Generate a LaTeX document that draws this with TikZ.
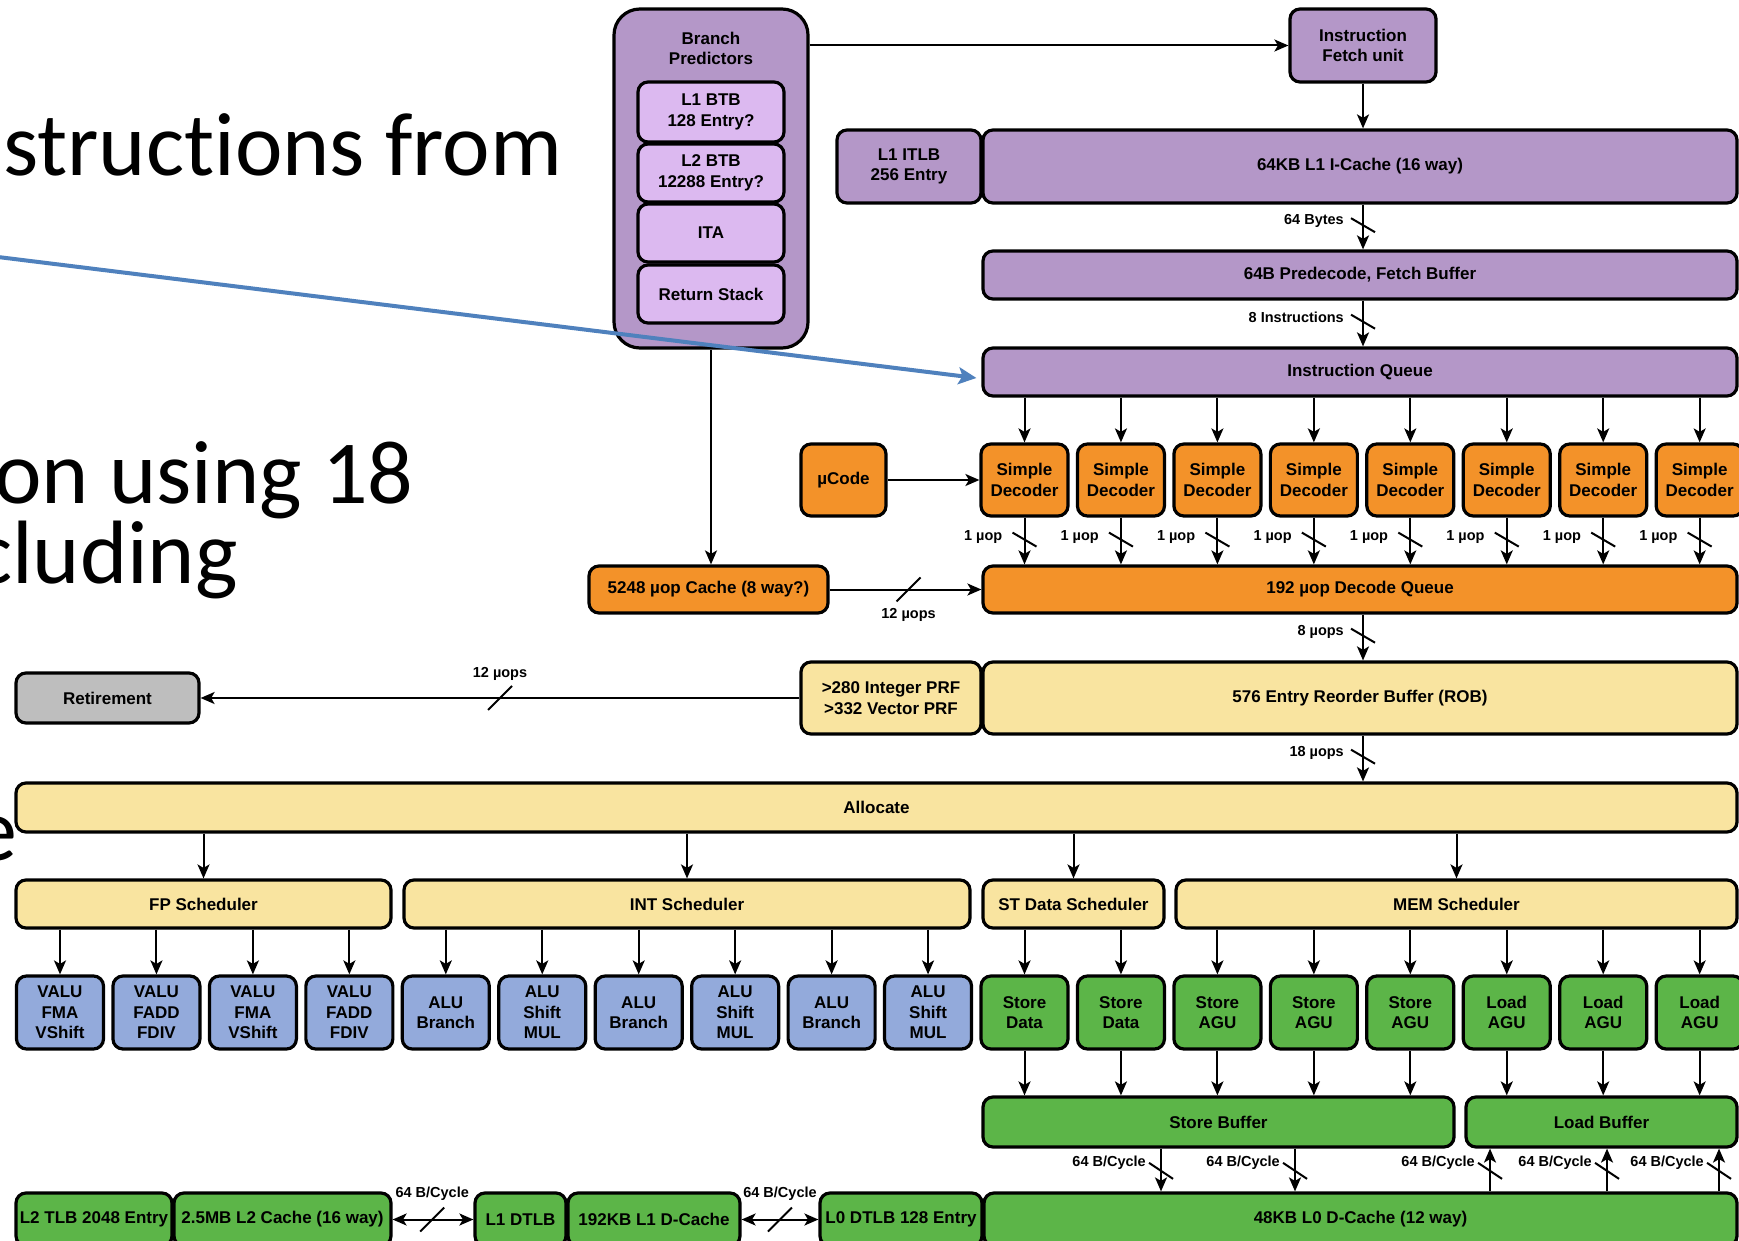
\documentclass[tikz,border=0pt]{standalone}
\usepackage{fontspec}
\setmainfont{Liberation Sans}
\newfontfamily\slidefont[Ligatures=NoCommon]{Carlito}
\usetikzlibrary{arrows.meta,calc}

\definecolor{purpleF}{HTML}{B497C8}
\definecolor{purpleL}{HTML}{DCB9F0}
\definecolor{orangeF}{HTML}{F39229}
\definecolor{yellowF}{HTML}{F9E4A0}
\definecolor{grayF}{HTML}{BEBEBE}
\definecolor{blueF}{HTML}{93AADB}
\definecolor{greenF}{HTML}{5CB548}
\definecolor{noteblue}{HTML}{4F81BD}

\tikzset{
  blk/.style={draw=black, line width=3.2pt, rounded corners=10pt, align=center,
    inner sep=0pt, font=\bfseries\fontsize{17}{20.5}\selectfont},
  pbox/.style={blk, fill=purpleF},
  plight/.style={blk, fill=purpleL},
  obox/.style={blk, fill=orangeF},
  ybox/.style={blk, fill=yellowF},
  gbox/.style={blk, fill=grayF},
  ubox/.style={blk, fill=blueF},
  grbox/.style={blk, fill=greenF},
  arr/.style={line width=2pt, -{Stealth[length=14pt,width=12pt,inset=3.5pt]}},
  darr/.style={line width=2pt, {Stealth[length=14pt,width=12pt,inset=3.5pt]}-{Stealth[length=14pt,width=12pt,inset=3.5pt]}},
  lbl/.style={font=\bfseries\fontsize{14.5}{17}\selectfont, inner sep=0pt},
  slashln/.style={line width=2pt},
  slidetxt/.style={font=\slidefont\fontsize{90}{100}\selectfont, inner sep=0pt, anchor=base west},
}

% box from its corners: name, x1, y1, x2, y2, style, text
\newcommand\mkbox[7]{\node[#6, minimum width={(#4)-(#2)}, minimum height={(#5)-(#3)}] (#1) at ({((#2)+(#4))/2},{((#3)+(#5))/2}) {#7};}
% execution unit on the column grid: name, column, style, text
\newcommand\unitbox[4]{\pgfmathsetmacro\uxpos{60+96.45*#2}\node[#3, minimum width=87, minimum height=73] (#1) at (\uxpos,1012.5) {#4};}
% vertical arrow with a bus slash and a label on its left: from, to, label, slash name
\newcommand\downlbl[4]{%
  \draw[arr] (#1) -- coordinate[pos=0.46] (#4) (#2);
  \draw[slashln] ($(#4)+(-12,-7)$) -- ($(#4)+(12,7)$);
  \node[lbl, anchor=east] (#4l) at ($(#4)+(-19,-4)$) {#3};}

\begin{document}
\begin{tikzpicture}[x=1pt, y=-1pt]
\useasboundingbox (0,0) rectangle (1739,1241);
\clip (0,0) rectangle (1739,1241);
\fill[white] (0,0) rectangle (1739,1241);

% slide text lying behind the diagram
\node[slidetxt] (st1) at (3,176) {structions from};
\node[slidetxt] (st2) at (-6,503) {on using 18};
\node[slidetxt] (st3) at (-26,583) {cluding};
\node[slidetxt, anchor=base east] (st4) at (17,860) {e};

% ---------------- front end ----------------
\mkbox{bp}{614}{9}{808}{348}{pbox, rounded corners=26pt}{}
\node[blk, draw=none, fill=none] (bpt) at (711,48.5) {Branch\\Predictors};
\mkbox{btb1}{638}{82}{784}{142}{plight}{L1 BTB\\128 Entry?}
\mkbox{btb2}{638}{144}{784}{202}{plight}{L2 BTB\\12288 Entry?}
\mkbox{ita}{638}{204}{784}{262}{plight}{ITA}
\mkbox{rs}{638}{265}{784}{323}{plight}{Return Stack}

\mkbox{ifu}{1290}{9}{1436}{82}{pbox}{Instruction\\Fetch unit}
\mkbox{itlb}{837}{130}{981}{203}{pbox}{L1 ITLB\\256 Entry}
\mkbox{ic}{983}{130}{1737}{203}{pbox}{64KB L1 I-Cache (16 way)}
\mkbox{pd}{983}{251}{1737}{299}{pbox}{64B Predecode, Fetch Buffer}
\mkbox{iq}{983}{348}{1737}{396}{pbox}{Instruction Queue}

% ---------------- decode ----------------
\mkbox{uc}{801}{444}{886}{516}{obox}{µCode}
\foreach \i in {10,...,17} {
  \pgfmathsetmacro\uxpos{60+96.45*\i}
  \node[obox, minimum width=87, minimum height=72] (d\i) at (\uxpos,480) {Simple\\Decoder};
}
\mkbox{upc}{589}{566}{828}{613}{obox}{5248 µop Cache (8 way?)}
\mkbox{dq}{983}{566}{1737}{613}{obox}{192 µop Decode Queue}

% ---------------- rename / retire ----------------
\mkbox{prf}{801}{662}{981}{734}{ybox}{>280 Integer PRF\\>332 Vector PRF}
\mkbox{rob}{983}{662}{1737}{734}{ybox}{576 Entry Reorder Buffer (ROB)}
\mkbox{ret}{16}{673}{199}{723}{gbox}{Retirement}
\mkbox{alloc}{16}{783}{1737}{832}{ybox}{Allocate}

% ---------------- schedulers ----------------
\mkbox{fps}{16}{880}{391}{928}{ybox}{FP Scheduler}
\mkbox{ints}{404}{880}{970}{928}{ybox}{INT Scheduler}
\mkbox{sts}{983}{880}{1164}{928}{ybox}{ST Data Scheduler}
\mkbox{mems}{1176}{880}{1737}{928}{ybox}{MEM Scheduler}

% ---------------- execution units ----------------
\unitbox{u0}{0}{ubox}{VALU\\FMA\\VShift}
\unitbox{u1}{1}{ubox}{VALU\\FADD\\FDIV}
\unitbox{u2}{2}{ubox}{VALU\\FMA\\VShift}
\unitbox{u3}{3}{ubox}{VALU\\FADD\\FDIV}
\unitbox{u4}{4}{ubox}{ALU\\Branch}
\unitbox{u5}{5}{ubox}{ALU\\Shift\\MUL}
\unitbox{u6}{6}{ubox}{ALU\\Branch}
\unitbox{u7}{7}{ubox}{ALU\\Shift\\MUL}
\unitbox{u8}{8}{ubox}{ALU\\Branch}
\unitbox{u9}{9}{ubox}{ALU\\Shift\\MUL}
\unitbox{u10}{10}{grbox}{Store\\Data}
\unitbox{u11}{11}{grbox}{Store\\Data}
\unitbox{u12}{12}{grbox}{Store\\AGU}
\unitbox{u13}{13}{grbox}{Store\\AGU}
\unitbox{u14}{14}{grbox}{Store\\AGU}
\unitbox{u15}{15}{grbox}{Load\\AGU}
\unitbox{u16}{16}{grbox}{Load\\AGU}
\unitbox{u17}{17}{grbox}{Load\\AGU}

% ---------------- memory ----------------
\mkbox{sb}{983}{1097}{1454}{1147}{grbox}{Store Buffer}
\mkbox{lb}{1466}{1097}{1737}{1147}{grbox}{Load Buffer}
\mkbox{l2tlb}{16}{1193}{172}{1246}{grbox}{L2 TLB 2048 Entry}
\mkbox{l2c}{174}{1193}{391}{1246}{grbox}{2.5MB L2 Cache (16 way)}
\mkbox{l1dtlb}{475}{1193}{566}{1246}{grbox}{L1 DTLB}
\mkbox{l1d}{568}{1193}{740}{1246}{grbox}{192KB L1 D-Cache}
\mkbox{l0dtlb}{820}{1193}{982}{1246}{grbox}{L0 DTLB 128 Entry}
\mkbox{l0d}{984}{1193}{1737}{1246}{grbox}{48KB L0 D-Cache (12 way)}

% ---------------- connectors ----------------
\draw[arr] (bp.east |- ifu.west) -- (ifu.west);
\draw[arr] (ifu.south) -- (ifu.south |- ic.north);
\downlbl{ifu.south |- ic.south}{ifu.south |- pd.north}{64 Bytes}{sa}
\downlbl{ifu.south |- pd.south}{ifu.south |- iq.north}{8 Instructions}{sb1}
\foreach \i in {10,...,17} {
  \draw[arr] (d\i.north |- iq.south) -- (d\i.north);
  \draw[arr] (d\i.south) -- coordinate[pos=0.47] (dm\i) (d\i.south |- dq.north);
  \draw[slashln] ($(dm\i)+(-12,-7)$) -- ($(dm\i)+(12,7)$);
  \node[lbl, anchor=east] (dl\i) at ($(dm\i)+(-22,-3)$) {1 µop};
}
\draw[arr] (uc.east) -- (d10.west);
\draw[arr] (bp.south) -- (bp.south |- upc.north);
\draw[arr] (upc.east) -- coordinate[pos=0.52] (sc) (dq.west);
\draw[slashln] ($(sc)+(-12,12)$) -- ($(sc)+(12,-12)$);
\node[lbl] (scl) at ($(sc)+(0,25.5)$) {12 µops};
\downlbl{ifu.south |- dq.south}{ifu.south |- rob.north}{8 µops}{sd}
\downlbl{ifu.south |- rob.south}{ifu.south |- alloc.north}{18 µops}{se}
\draw[arr] (prf.west) -- coordinate[pos=0.5] (sr) (ret.east);
\draw[slashln] ($(sr)+(-12,12)$) -- ($(sr)+(12,-12)$);
\node[lbl] (srl) at ($(sr)+(0,-24)$) {12 µops};

\foreach \s in {fps,ints,sts,mems}
  \draw[arr] (\s.north |- alloc.south) -- (\s.north);
\foreach \i in {0,1,2,3}
  \draw[arr] (u\i.north |- fps.south) -- (u\i.north);
\foreach \i in {4,...,9}
  \draw[arr] (u\i.north |- ints.south) -- (u\i.north);
\foreach \i in {10,11}
  \draw[arr] (u\i.north |- sts.south) -- (u\i.north);
\foreach \i in {12,...,17}
  \draw[arr] (u\i.north |- mems.south) -- (u\i.north);
\foreach \i in {10,...,14}
  \draw[arr] (u\i.south) -- (u\i.south |- sb.north);
\foreach \i in {15,16,17}
  \draw[arr] (u\i.south) -- (u\i.south |- lb.north);

% store buffer to L0, L0 to load buffer
\coordinate (w1) at (1161,1170);
\coordinate (w2) at (1295,1170);
\coordinate (r1) at (1490,1170);
\coordinate (r2) at (1607,1170);
\coordinate (r3) at (1719,1170);
\foreach \c in {w1,w2} {
  \draw[arr] (\c |- sb.south) -- coordinate[pos=0.52] (\c m) (\c |- l0d.north);
}
\foreach \c in {r1,r2,r3} {
  \draw[arr] (\c |- l0d.north) -- coordinate[pos=0.48] (\c m) (\c |- lb.south);
}
\foreach \c in {w1,w2,r1,r2,r3} {
  \draw[slashln] ($(\c m)+(-12,-8)$) -- ($(\c m)+(12,8)$);
  \node[lbl, anchor=east] (\c l) at ($(\c m)+(-15,-8)$) {64 B/Cycle};
}

% L2 <-> L1 <-> L0 paths
\draw[darr] (l2c.east) -- coordinate[pos=0.49] (bx1) (l1dtlb.west);
\draw[slashln] ($(bx1)+(-12,12)$) -- ($(bx1)+(12,-12)$);
\node[lbl] (bx1l) at ($(bx1)+(0,-26)$) {64 B/Cycle};
\draw[darr] (l1d.east) -- coordinate[pos=0.5] (bx2) (l0dtlb.west);
\draw[slashln] ($(bx2)+(-12,12)$) -- ($(bx2)+(12,-12)$);
\node[lbl] (bx2l) at ($(bx2)+(0,-26)$) {64 B/Cycle};

% annotation arrow pointing at the instruction queue
\coordinate (nstart) at (-2,257);
\coordinate (ntip) at ($(iq.west)+(-5,6)$);
\draw[noteblue, line width=4pt, -{Stealth[length=18pt,width=17pt,inset=4pt]}] (nstart) -- (ntip);
\end{tikzpicture}
\end{document}
